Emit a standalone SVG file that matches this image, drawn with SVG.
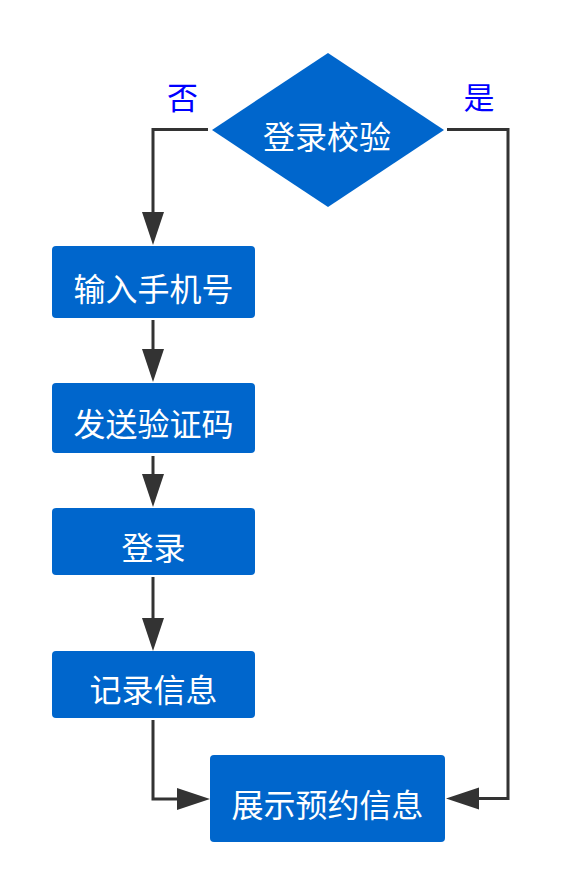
<svg xmlns="http://www.w3.org/2000/svg" width="571" height="894" viewBox="0 0 571 894">
<style>
.box{fill:#0066cc;}
.t{fill:#ffffff;font-family:"Noto Sans CJK SC","Noto Sans",sans-serif;font-size:32px;text-anchor:middle;dominant-baseline:central;}
.lbl{fill:#0000ff;font-family:"Noto Sans CJK SC","Noto Sans",sans-serif;font-size:31px;text-anchor:middle;dominant-baseline:central;}
.c{fill:none;stroke:#333333;stroke-width:3;marker-end:url(#ah);}
</style>
<defs>
<marker id="ah" markerUnits="userSpaceOnUse" markerWidth="34" markerHeight="22" refX="0" refY="11" orient="auto" overflow="visible">
<path d="M0,0 L33,11 L0,22 z" fill="#333333"/>
</marker>
</defs>
<rect width="571" height="894" fill="#ffffff"/>
<g id="connectors">
<path class="c" d="M208,129.5 H153 V212"/>
<path class="c" d="M447,129.5 H508 V798.5 H479"/>
<path class="c" d="M153,320 V349"/>
<path class="c" d="M153,456 V474"/>
<path class="c" d="M153,577 V618"/>
<path class="c" d="M153,720 V799 H177"/>
<text class="lbl" x="182.5" y="95.5">否</text>
<text class="lbl" x="479" y="95.5">是</text>
</g>
<g id="check">
<polygon class="box" points="328,53 444,130 328,207 212,130"/>
<text class="t" x="327" y="135">登录校验</text>
</g>
<g id="phone">
<rect class="box" x="52" y="246" width="203" height="72" rx="4"/>
<text class="t" x="153.5" y="287">输入手机号</text>
</g>
<g id="sendcode">
<rect class="box" x="52" y="383" width="203" height="70" rx="4"/>
<text class="t" x="153.5" y="422">发送验证码</text>
</g>
<g id="login">
<rect class="box" x="52" y="508" width="203" height="67" rx="4"/>
<text class="t" x="153.5" y="546">登录</text>
</g>
<g id="record">
<rect class="box" x="52" y="651" width="203" height="67" rx="4"/>
<text class="t" x="153.5" y="688">记录信息</text>
</g>
<g id="show">
<rect class="box" x="210" y="755" width="235" height="87" rx="4"/>
<text class="t" x="327.5" y="803">展示预约信息</text>
</g>
</svg>
